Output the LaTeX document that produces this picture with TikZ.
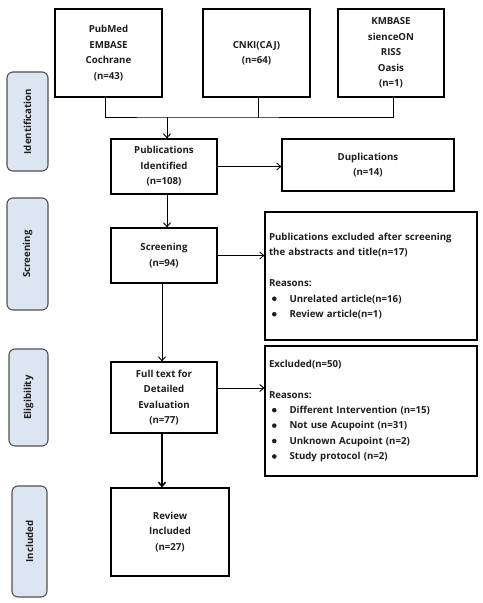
\documentclass[tikz,border=0pt]{standalone}
\usepackage{fontspec}
\setmainfont{Open Sans}
\usetikzlibrary{arrows.meta}
\definecolor{stagefill}{HTML}{DCE6F2}
\definecolor{stageline}{HTML}{505050}
\definecolor{txt}{HTML}{1E1E1E}
\tikzset{
  box/.style={draw=black, line width=1.2bp, fill=white, align=center, inner sep=0pt,
    font=\bfseries\fontsize{9.7}{15.5}\selectfont, text=txt},
  exbox/.style={draw=black, line width=1.2bp, fill=white, align=left, inner sep=0pt,
    font=\bfseries\fontsize{9.7}{15.5}\selectfont, text=txt},
  stage/.style={draw=stageline, line width=1.1bp, fill=stagefill, rounded corners=6bp,
    rotate=90, font=\bfseries\fontsize{9.7}{12}\selectfont, text=txt, inner sep=0pt},
  conn/.style={draw=black, line width=0.9bp},
  arr/.style={conn, -{Straight Barb[length=4bp,width=7bp]}},
}
\newcommand{\bul}{\hspace*{3bp}\makebox[17.5bp][l]{\raisebox{0.2ex}{\tikz\fill[txt] (0,0) circle (2.3bp);}}}
\begin{document}
\begin{tikzpicture}[x=1bp,y=-1bp]
\useasboundingbox (0,0) rectangle (483,603);
% stage labels
\node[stage, minimum width=99bp, minimum height=41bp] (s1) at (27.5,121.5) {Identification};
\node[stage, minimum width=112bp, minimum height=41bp] (s2) at (27.5,254) {Screening};
\node[stage, minimum width=97bp, minimum height=39bp] (s3) at (28.5,397.5) {Eligibility};
\node[stage, minimum width=111bp, minimum height=35bp] (s4) at (29.5,541.5) {Included};
% sources
\node[box, minimum width=107bp, minimum height=88bp] (src1) at (108.5,53) {PubMed\\EMBASE\\Cochrane\\(n=43)};
\node[box, minimum width=107bp, minimum height=88bp] (src2) at (256.5,53) {CNKI(CAJ)\\(n=64)};
\node[box, minimum width=106bp, minimum height=88bp] (src3) at (391,53) {KMBASE\\sienceON\\RISS\\Oasis\\(n=1)};
% main boxes
\node[box, minimum width=106bp, minimum height=55bp] (pub) at (164,166.5) {Publications\\Identified\\(n=108)};
\node[box, minimum width=172bp, minimum height=52bp] (dup) at (368,165) {Duplications\\(n=14)};
\node[box, minimum width=106bp, minimum height=55bp] (scr) at (164,255.5) {Screening\\(n=94)};
\node[exbox, minimum width=212bp, minimum height=128bp, text width=204bp] (ex1) at (371,276) {%
Publications excluded after screening\\the abstracts and title(n=17)\\[15.5bp]
Reasons:\\
\bul Unrelated article(n=16)\\
\bul Review article(n=1)};
\node[box, minimum width=106bp, minimum height=71bp] (full) at (164,397.5) {Full text for\\Detailed\\Evaluation\\(n=77)};
\node[exbox, minimum width=212bp, minimum height=130bp, text width=204bp] (ex2) at (371,411) {%
Excluded(n=50)\\[15.5bp]
Reasons:\\
\bul Different Intervention (n=15)\\
\bul Not use Acupoint (n=31)\\
\bul Unknown Acupoint (n=2)\\
\bul Study protocol (n=2)};
\node[box, minimum width=118bp, minimum height=88bp] (rev) at (170,532) {Review\\Included\\(n=27)};
% connectors
\coordinate (j) at (167,117);
\draw[conn] ([xshift=-3.5bp]src1.south) |- (j) -| ([xshift=2bp]src3.south);
\draw[conn] ([xshift=1.5bp]src2.south) -- ([xshift=1.5bp]src2.south |- j);
\draw[arr] (j) -- (j |- pub.north);
\draw[arr] (pub.east) -- (pub.east -| dup.west);
\draw[arr] ([xshift=3bp]pub.south) -- ([xshift=3bp]scr.north);
\draw[arr] (scr.east) -- (scr.east -| ex1.west);
\draw[arr] ([xshift=-2bp]scr.south) -- ([xshift=-2bp]full.north);
\coordinate (a2) at ([yshift=9.5bp]full.east);
\draw[arr] (a2) -- (a2 -| ex2.west);
\draw[arr, line width=1.6bp] ([xshift=-2bp]full.south) -- ([xshift=-2bp]full.south |- rev.north);
\end{tikzpicture}
\end{document}
